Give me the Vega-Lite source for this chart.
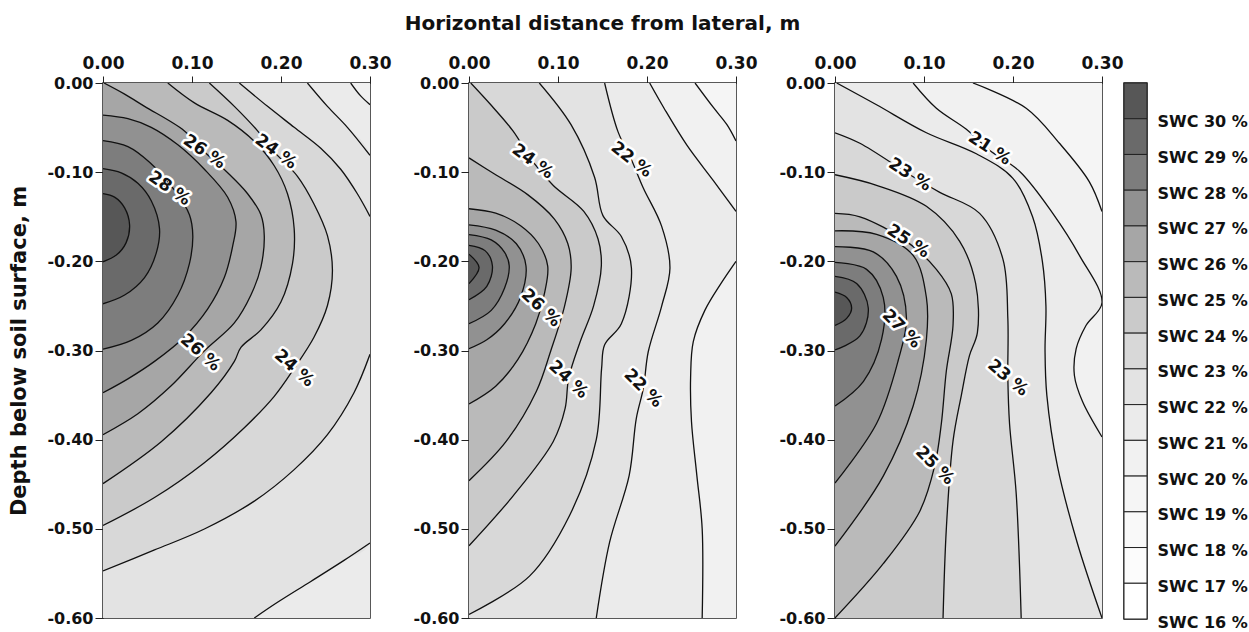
{
"$schema": "https://vega.github.io/schema/vega-lite/v6.json",
"padding": {"left": 8, "top": 13, "right": 0, "bottom": 0},
"background": "white",
"config": {
  "view": {"stroke": "#222", "strokeWidth": 1.5},
  "font": "DejaVu Sans",
  "axis": {"labelFont": "DejaVu Sans", "labelFontWeight": "bold", "labelFontSize": 16, "labelColor": "#111", "tickColor": "#222", "domainColor": "#222", "grid": false, "labelFlush": false, "titleFont": "DejaVu Sans", "titleFontWeight": "bold", "titleColor": "#111"},
  "axisX": {"labelFontSize": 17},
  "text": {"font": "DejaVu Sans", "fontWeight": "bold", "fontSize": 17}
},
"datasets": {
"c": [
{"p":1,"lv":20,"s":"c","x":0.3,"d":0},{"p":1,"lv":20,"s":"c","x":0.3,"d":-0.6},
{"p":1,"lv":21,"s":"a","x":0.2783,"d":0},{"p":1,"lv":21,"s":"a","x":0.2895,"d":-0.0145},{"p":1,"lv":21,"s":"a","x":0.3,"d":-0.0243},{"p":1,"lv":21,"s":"c","x":0.3,"d":-0.6},
{"p":1,"lv":22,"s":"a","x":0.2297,"d":0},{"p":1,"lv":22,"s":"a","x":0.2522,"d":-0.0262},{"p":1,"lv":22,"s":"a","x":0.2746,"d":-0.0497},{"p":1,"lv":22,"s":"a","x":0.3,"d":-0.0811},
{"p":1,"lv":22,"s":"b","x":0.3,"d":-0.5159},{"p":1,"lv":22,"s":"b","x":0.2708,"d":-0.5354},{"p":1,"lv":22,"s":"b","x":0.2335,"d":-0.559},{"p":1,"lv":22,"s":"b","x":0.1961,"d":-0.5824},{"p":1,"lv":22,"s":"b","x":0.17,"d":-0.6},
{"p":1,"lv":23,"s":"a","x":0.1532,"d":0},{"p":1,"lv":23,"s":"a","x":0.1849,"d":-0.0262},{"p":1,"lv":23,"s":"a","x":0.2148,"d":-0.0497},{"p":1,"lv":23,"s":"a","x":0.2447,"d":-0.0732},{"p":1,"lv":23,"s":"a","x":0.2671,"d":-0.0967},{"p":1,"lv":23,"s":"a","x":0.2858,"d":-0.1242},{"p":1,"lv":23,"s":"a","x":0.3,"d":-0.1496},
{"p":1,"lv":23,"s":"b","x":0.3,"d":-0.3043},{"p":1,"lv":23,"s":"b","x":0.282,"d":-0.3474},{"p":1,"lv":23,"s":"b","x":0.2522,"d":-0.3944},{"p":1,"lv":23,"s":"b","x":0.2148,"d":-0.4336},{"p":1,"lv":23,"s":"b","x":0.17,"d":-0.4689},{"p":1,"lv":23,"s":"b","x":0.1139,"d":-0.5002},{"p":1,"lv":23,"s":"b","x":0.0579,"d":-0.5237},{"p":1,"lv":23,"s":"b","x":0,"d":-0.5472},
{"p":1,"lv":24,"s":"a","x":0.1195,"d":0},{"p":1,"lv":24,"s":"a","x":0.1476,"d":-0.0262},{"p":1,"lv":24,"s":"a","x":0.1737,"d":-0.0537},{"p":1,"lv":24,"s":"a","x":0.1924,"d":-0.0772},{"p":1,"lv":24,"s":"a","x":0.2185,"d":-0.1046},{"p":1,"lv":24,"s":"a","x":0.2372,"d":-0.1359},{"p":1,"lv":24,"s":"a","x":0.2522,"d":-0.1712},{"p":1,"lv":24,"s":"a","x":0.2578,"d":-0.2103},{"p":1,"lv":24,"s":"a","x":0.2522,"d":-0.2495},{"p":1,"lv":24,"s":"a","x":0.2372,"d":-0.2848},{"p":1,"lv":24,"s":"a","x":0.2148,"d":-0.32},{"p":1,"lv":24,"s":"a","x":0.1924,"d":-0.3514},{"p":1,"lv":24,"s":"a","x":0.1588,"d":-0.3866},{"p":1,"lv":24,"s":"a","x":0.1139,"d":-0.4258},{"p":1,"lv":24,"s":"a","x":0.0579,"d":-0.4649},{"p":1,"lv":24,"s":"a","x":0,"d":-0.4963},
{"p":1,"lv":25,"s":"a","x":0.0728,"d":0},{"p":1,"lv":25,"s":"a","x":0.1027,"d":-0.0223},{"p":1,"lv":25,"s":"a","x":0.1401,"d":-0.0419},{"p":1,"lv":25,"s":"a","x":0.17,"d":-0.0654},{"p":1,"lv":25,"s":"a","x":0.1924,"d":-0.0928},{"p":1,"lv":25,"s":"a","x":0.2073,"d":-0.1242},{"p":1,"lv":25,"s":"a","x":0.2148,"d":-0.1633},{"p":1,"lv":25,"s":"a","x":0.2129,"d":-0.2025},{"p":1,"lv":25,"s":"a","x":0.1999,"d":-0.2456},{"p":1,"lv":25,"s":"a","x":0.1774,"d":-0.2769},{"p":1,"lv":25,"s":"a","x":0.155,"d":-0.2965},{"p":1,"lv":25,"s":"a","x":0.1476,"d":-0.3122},{"p":1,"lv":25,"s":"a","x":0.1214,"d":-0.3474},{"p":1,"lv":25,"s":"a","x":0.0654,"d":-0.4023},{"p":1,"lv":25,"s":"a","x":0,"d":-0.4493},
{"p":1,"lv":26,"s":"a","x":0.0011,"d":0},{"p":1,"lv":26,"s":"a","x":0.0243,"d":-0.0125},{"p":1,"lv":26,"s":"a","x":0.0467,"d":-0.0262},{"p":1,"lv":26,"s":"a","x":0.0915,"d":-0.0537},{"p":1,"lv":26,"s":"a","x":0.1139,"d":-0.0772},{"p":1,"lv":26,"s":"a","x":0.1401,"d":-0.1007},{"p":1,"lv":26,"s":"a","x":0.1625,"d":-0.1242},{"p":1,"lv":26,"s":"a","x":0.1774,"d":-0.1477},{"p":1,"lv":26,"s":"a","x":0.1812,"d":-0.1712},{"p":1,"lv":26,"s":"a","x":0.1774,"d":-0.2064},{"p":1,"lv":26,"s":"a","x":0.1662,"d":-0.2378},{"p":1,"lv":26,"s":"a","x":0.1476,"d":-0.2691},{"p":1,"lv":26,"s":"a","x":0.1139,"d":-0.3004},{"p":1,"lv":26,"s":"a","x":0.0766,"d":-0.3396},{"p":1,"lv":26,"s":"a","x":0.0392,"d":-0.3709},{"p":1,"lv":26,"s":"a","x":0,"d":-0.3944},
{"p":1,"lv":27,"s":"a","x":0,"d":-0.036},{"p":1,"lv":27,"s":"a","x":0.028,"d":-0.04},{"p":1,"lv":27,"s":"a","x":0.0542,"d":-0.0497},{"p":1,"lv":27,"s":"a","x":0.0841,"d":-0.0693},{"p":1,"lv":27,"s":"a","x":0.1139,"d":-0.0967},{"p":1,"lv":27,"s":"a","x":0.1401,"d":-0.1281},{"p":1,"lv":27,"s":"a","x":0.1494,"d":-0.1555},{"p":1,"lv":27,"s":"a","x":0.1457,"d":-0.1829},{"p":1,"lv":27,"s":"a","x":0.1363,"d":-0.2182},{"p":1,"lv":27,"s":"a","x":0.1177,"d":-0.2534},{"p":1,"lv":27,"s":"a","x":0.0915,"d":-0.2848},{"p":1,"lv":27,"s":"a","x":0.0579,"d":-0.3122},{"p":1,"lv":27,"s":"a","x":0.028,"d":-0.3318},{"p":1,"lv":27,"s":"a","x":0,"d":-0.3474},
{"p":1,"lv":28,"s":"a","x":0,"d":-0.0646},{"p":1,"lv":28,"s":"a","x":0.028,"d":-0.0713},{"p":1,"lv":28,"s":"a","x":0.0523,"d":-0.0889},{"p":1,"lv":28,"s":"a","x":0.0803,"d":-0.1202},{"p":1,"lv":28,"s":"a","x":0.0971,"d":-0.1477},{"p":1,"lv":28,"s":"a","x":0.1009,"d":-0.1712},{"p":1,"lv":28,"s":"a","x":0.0971,"d":-0.2025},{"p":1,"lv":28,"s":"a","x":0.0841,"d":-0.2378},{"p":1,"lv":28,"s":"a","x":0.0616,"d":-0.2691},{"p":1,"lv":28,"s":"a","x":0.0318,"d":-0.2887},{"p":1,"lv":28,"s":"a","x":0,"d":-0.2985},
{"p":1,"lv":29,"s":"a","x":0,"d":-0.096},{"p":1,"lv":29,"s":"a","x":0.0205,"d":-0.1007},{"p":1,"lv":29,"s":"a","x":0.0392,"d":-0.1124},{"p":1,"lv":29,"s":"a","x":0.0542,"d":-0.132},{"p":1,"lv":29,"s":"a","x":0.0635,"d":-0.1633},{"p":1,"lv":29,"s":"a","x":0.0598,"d":-0.1908},{"p":1,"lv":29,"s":"a","x":0.0467,"d":-0.2182},{"p":1,"lv":29,"s":"a","x":0.0243,"d":-0.2378},{"p":1,"lv":29,"s":"a","x":0,"d":-0.2476},
{"p":1,"lv":30,"s":"a","x":0,"d":-0.124},{"p":1,"lv":30,"s":"a","x":0.013,"d":-0.128},{"p":1,"lv":30,"s":"a","x":0.0243,"d":-0.14},{"p":1,"lv":30,"s":"a","x":0.0299,"d":-0.1594},{"p":1,"lv":30,"s":"a","x":0.026,"d":-0.179},{"p":1,"lv":30,"s":"a","x":0.015,"d":-0.193},{"p":1,"lv":30,"s":"a","x":0,"d":-0.2005},

{"p":2,"lv":19,"s":"c","x":0.3,"d":0},{"p":2,"lv":19,"s":"c","x":0.3,"d":-0.6},
{"p":2,"lv":20,"s":"a","x":0.254,"d":0},{"p":2,"lv":20,"s":"a","x":0.275,"d":-0.028},{"p":2,"lv":20,"s":"a","x":0.29,"d":-0.047},{"p":2,"lv":20,"s":"a","x":0.3,"d":-0.065},{"p":2,"lv":20,"s":"c","x":0.3,"d":-0.6},
{"p":2,"lv":21,"s":"a","x":0.203,"d":0},{"p":2,"lv":21,"s":"a","x":0.219,"d":-0.028},{"p":2,"lv":21,"s":"a","x":0.245,"d":-0.07},{"p":2,"lv":21,"s":"a","x":0.275,"d":-0.11},{"p":2,"lv":21,"s":"a","x":0.3,"d":-0.144},
{"p":2,"lv":21,"s":"b","x":0.3,"d":-0.2},{"p":2,"lv":21,"s":"b","x":0.283,"d":-0.225},{"p":2,"lv":21,"s":"b","x":0.265,"d":-0.255},{"p":2,"lv":21,"s":"b","x":0.252,"d":-0.29},{"p":2,"lv":21,"s":"b","x":0.249,"d":-0.33},{"p":2,"lv":21,"s":"b","x":0.25,"d":-0.38},{"p":2,"lv":21,"s":"b","x":0.256,"d":-0.44},{"p":2,"lv":21,"s":"b","x":0.262,"d":-0.5},{"p":2,"lv":21,"s":"b","x":0.262,"d":-0.6},
{"p":2,"lv":22,"s":"a","x":0.1524,"d":0},{"p":2,"lv":22,"s":"a","x":0.1675,"d":-0.0548},{"p":2,"lv":22,"s":"a","x":0.1825,"d":-0.0861},{"p":2,"lv":22,"s":"a","x":0.1957,"d":-0.1174},{"p":2,"lv":22,"s":"a","x":0.2164,"d":-0.1605},{"p":2,"lv":22,"s":"a","x":0.2258,"d":-0.2074},{"p":2,"lv":22,"s":"a","x":0.2164,"d":-0.2505},{"p":2,"lv":22,"s":"a","x":0.2014,"d":-0.3014},{"p":2,"lv":22,"s":"a","x":0.196,"d":-0.342},{"p":2,"lv":22,"s":"a","x":0.188,"d":-0.376},{"p":2,"lv":22,"s":"a","x":0.18,"d":-0.44},{"p":2,"lv":22,"s":"a","x":0.158,"d":-0.515},{"p":2,"lv":22,"s":"a","x":0.143,"d":-0.6},
{"p":2,"lv":23,"s":"a","x":0.079,"d":0},{"p":2,"lv":23,"s":"a","x":0.1148,"d":-0.047},{"p":2,"lv":23,"s":"a","x":0.1411,"d":-0.1057},{"p":2,"lv":23,"s":"a","x":0.1505,"d":-0.1487},{"p":2,"lv":23,"s":"a","x":0.1712,"d":-0.1722},{"p":2,"lv":23,"s":"a","x":0.1825,"d":-0.2074},{"p":2,"lv":23,"s":"a","x":0.1712,"d":-0.27},{"p":2,"lv":23,"s":"a","x":0.1524,"d":-0.2935},{"p":2,"lv":23,"s":"a","x":0.149,"d":-0.32},{"p":2,"lv":23,"s":"a","x":0.143,"d":-0.4},{"p":2,"lv":23,"s":"a","x":0.113,"d":-0.485},{"p":2,"lv":23,"s":"a","x":0.068,"d":-0.553},{"p":2,"lv":23,"s":"a","x":0,"d":-0.596},
{"p":2,"lv":24,"s":"a","x":0.002,"d":0},{"p":2,"lv":24,"s":"a","x":0.025,"d":-0.025},{"p":2,"lv":24,"s":"a","x":0.0496,"d":-0.054},{"p":2,"lv":24,"s":"a","x":0.0715,"d":-0.088},{"p":2,"lv":24,"s":"a","x":0.0947,"d":-0.115},{"p":2,"lv":24,"s":"a","x":0.129,"d":-0.144},{"p":2,"lv":24,"s":"a","x":0.145,"d":-0.175},{"p":2,"lv":24,"s":"a","x":0.1487,"d":-0.205},{"p":2,"lv":24,"s":"a","x":0.14,"d":-0.25},{"p":2,"lv":24,"s":"a","x":0.125,"d":-0.29},{"p":2,"lv":24,"s":"a","x":0.112,"d":-0.331},{"p":2,"lv":24,"s":"a","x":0.108,"d":-0.365},{"p":2,"lv":24,"s":"a","x":0.0947,"d":-0.402},{"p":2,"lv":24,"s":"a","x":0.0496,"d":-0.463},{"p":2,"lv":24,"s":"a","x":0,"d":-0.519},
{"p":2,"lv":25,"s":"a","x":0,"d":-0.084},{"p":2,"lv":25,"s":"a","x":0.0282,"d":-0.1018},{"p":2,"lv":25,"s":"a","x":0.0659,"d":-0.1252},{"p":2,"lv":25,"s":"a","x":0.096,"d":-0.1526},{"p":2,"lv":25,"s":"a","x":0.111,"d":-0.18},{"p":2,"lv":25,"s":"a","x":0.1148,"d":-0.2074},{"p":2,"lv":25,"s":"a","x":0.1073,"d":-0.2505},{"p":2,"lv":25,"s":"a","x":0.092,"d":-0.3},{"p":2,"lv":25,"s":"a","x":0.0756,"d":-0.346},{"p":2,"lv":25,"s":"a","x":0.0417,"d":-0.402},{"p":2,"lv":25,"s":"a","x":0,"d":-0.446},
{"p":2,"lv":26,"s":"a","x":0,"d":-0.141},{"p":2,"lv":26,"s":"a","x":0.03,"d":-0.146},{"p":2,"lv":26,"s":"a","x":0.058,"d":-0.16},{"p":2,"lv":26,"s":"a","x":0.078,"d":-0.18},{"p":2,"lv":26,"s":"a","x":0.0884,"d":-0.205},{"p":2,"lv":26,"s":"a","x":0.085,"d":-0.235},{"p":2,"lv":26,"s":"a","x":0.075,"d":-0.27},{"p":2,"lv":26,"s":"a","x":0.055,"d":-0.31},{"p":2,"lv":26,"s":"a","x":0.03,"d":-0.34},{"p":2,"lv":26,"s":"a","x":0,"d":-0.36},
{"p":2,"lv":27,"s":"a","x":0,"d":-0.159},{"p":2,"lv":27,"s":"a","x":0.03,"d":-0.165},{"p":2,"lv":27,"s":"a","x":0.053,"d":-0.18},{"p":2,"lv":27,"s":"a","x":0.064,"d":-0.205},{"p":2,"lv":27,"s":"a","x":0.058,"d":-0.24},{"p":2,"lv":27,"s":"a","x":0.04,"d":-0.27},{"p":2,"lv":27,"s":"a","x":0.02,"d":-0.288},{"p":2,"lv":27,"s":"a","x":0,"d":-0.298},
{"p":2,"lv":28,"s":"a","x":0,"d":-0.17},{"p":2,"lv":28,"s":"a","x":0.025,"d":-0.176},{"p":2,"lv":28,"s":"a","x":0.04,"d":-0.19},{"p":2,"lv":28,"s":"a","x":0.0452,"d":-0.205},{"p":2,"lv":28,"s":"a","x":0.04,"d":-0.23},{"p":2,"lv":28,"s":"a","x":0.025,"d":-0.255},{"p":2,"lv":28,"s":"a","x":0,"d":-0.27},
{"p":2,"lv":29,"s":"a","x":0,"d":-0.182},{"p":2,"lv":29,"s":"a","x":0.018,"d":-0.188},{"p":2,"lv":29,"s":"a","x":0.0263,"d":-0.205},{"p":2,"lv":29,"s":"a","x":0.02,"d":-0.228},{"p":2,"lv":29,"s":"a","x":0,"d":-0.243},
{"p":2,"lv":30,"s":"a","x":0,"d":-0.192},{"p":2,"lv":30,"s":"a","x":0.0113,"d":-0.207},{"p":2,"lv":30,"s":"a","x":0,"d":-0.225},

{"p":3,"lv":19,"s":"c","x":0.3,"d":0},{"p":3,"lv":19,"s":"c","x":0.3,"d":-0.6},
{"p":3,"lv":20,"s":"a","x":0.155,"d":0},{"p":3,"lv":20,"s":"a","x":0.2148,"d":-0.0283},{"p":3,"lv":20,"s":"a","x":0.2522,"d":-0.0676},{"p":3,"lv":20,"s":"a","x":0.2858,"d":-0.1108},{"p":3,"lv":20,"s":"a","x":0.3,"d":-0.1442},{"p":3,"lv":20,"s":"c","x":0.3,"d":-0.6},
{"p":3,"lv":21,"s":"a","x":0.0878,"d":0},{"p":3,"lv":21,"s":"a","x":0.1139,"d":-0.0283},{"p":3,"lv":21,"s":"a","x":0.1476,"d":-0.0519},{"p":3,"lv":21,"s":"a","x":0.1737,"d":-0.0754},{"p":3,"lv":21,"s":"a","x":0.2073,"d":-0.099},{"p":3,"lv":21,"s":"a","x":0.2447,"d":-0.1462},{"p":3,"lv":21,"s":"a","x":0.2746,"d":-0.1933},{"p":3,"lv":21,"s":"a","x":0.3,"d":-0.2464},{"p":3,"lv":21,"s":"a","x":0.282,"d":-0.272},{"p":3,"lv":21,"s":"a","x":0.271,"d":-0.298},{"p":3,"lv":21,"s":"a","x":0.269,"d":-0.328},{"p":3,"lv":21,"s":"a","x":0.278,"d":-0.357},{"p":3,"lv":21,"s":"a","x":0.3,"d":-0.397},{"p":3,"lv":21,"s":"c","x":0.3,"d":-0.6},
{"p":3,"lv":22,"s":"a","x":0.0019,"d":0},{"p":3,"lv":22,"s":"a","x":0.0467,"d":-0.0244},{"p":3,"lv":22,"s":"a","x":0.1027,"d":-0.0558},{"p":3,"lv":22,"s":"a","x":0.1588,"d":-0.0794},{"p":3,"lv":22,"s":"a","x":0.1999,"d":-0.1069},{"p":3,"lv":22,"s":"a","x":0.222,"d":-0.15},{"p":3,"lv":22,"s":"a","x":0.233,"d":-0.2},{"p":3,"lv":22,"s":"a","x":0.237,"d":-0.25},{"p":3,"lv":22,"s":"a","x":0.236,"d":-0.3},{"p":3,"lv":22,"s":"a","x":0.238,"d":-0.35},{"p":3,"lv":22,"s":"a","x":0.25,"d":-0.43},{"p":3,"lv":22,"s":"a","x":0.272,"d":-0.515},{"p":3,"lv":22,"s":"a","x":0.3,"d":-0.6},
{"p":3,"lv":23,"s":"a","x":0,"d":-0.0558},{"p":3,"lv":23,"s":"a","x":0.028,"d":-0.0676},{"p":3,"lv":23,"s":"a","x":0.0841,"d":-0.1029},{"p":3,"lv":23,"s":"a","x":0.1177,"d":-0.1226},{"p":3,"lv":23,"s":"a","x":0.1625,"d":-0.1462},{"p":3,"lv":23,"s":"a","x":0.1886,"d":-0.1972},{"p":3,"lv":23,"s":"a","x":0.1942,"d":-0.264},{"p":3,"lv":23,"s":"a","x":0.1942,"d":-0.3308},{"p":3,"lv":23,"s":"a","x":0.1961,"d":-0.3819},{"p":3,"lv":23,"s":"a","x":0.2036,"d":-0.4605},{"p":3,"lv":23,"s":"a","x":0.2092,"d":-0.6},
{"p":3,"lv":24,"s":"a","x":0,"d":-0.1029},{"p":3,"lv":24,"s":"a","x":0.0467,"d":-0.1147},{"p":3,"lv":24,"s":"a","x":0.1027,"d":-0.1383},{"p":3,"lv":24,"s":"a","x":0.1401,"d":-0.1776},{"p":3,"lv":24,"s":"a","x":0.158,"d":-0.2248},{"p":3,"lv":24,"s":"a","x":0.16,"d":-0.28},{"p":3,"lv":24,"s":"a","x":0.151,"d":-0.306},{"p":3,"lv":24,"s":"a","x":0.142,"d":-0.35},{"p":3,"lv":24,"s":"a","x":0.1326,"d":-0.4016},{"p":3,"lv":24,"s":"a","x":0.1251,"d":-0.4998},{"p":3,"lv":24,"s":"a","x":0.1214,"d":-0.6},
{"p":3,"lv":25,"s":"a","x":0,"d":-0.1462},{"p":3,"lv":25,"s":"a","x":0.028,"d":-0.1501},{"p":3,"lv":25,"s":"a","x":0.0803,"d":-0.1776},{"p":3,"lv":25,"s":"a","x":0.1139,"d":-0.209},{"p":3,"lv":25,"s":"a","x":0.1307,"d":-0.2365},{"p":3,"lv":25,"s":"a","x":0.1326,"d":-0.2719},{"p":3,"lv":25,"s":"a","x":0.1251,"d":-0.323},{"p":3,"lv":25,"s":"a","x":0.1195,"d":-0.3819},{"p":3,"lv":25,"s":"a","x":0.1121,"d":-0.4291},{"p":3,"lv":25,"s":"a","x":0.0953,"d":-0.4802},{"p":3,"lv":25,"s":"a","x":0.0542,"d":-0.5391},{"p":3,"lv":25,"s":"a","x":0,"d":-0.6},
{"p":3,"lv":26,"s":"a","x":0,"d":-0.1658},{"p":3,"lv":26,"s":"a","x":0.0467,"d":-0.1697},{"p":3,"lv":26,"s":"a","x":0.0878,"d":-0.1933},{"p":3,"lv":26,"s":"a","x":0.1027,"d":-0.2405},{"p":3,"lv":26,"s":"a","x":0.1027,"d":-0.2876},{"p":3,"lv":26,"s":"a","x":0.0878,"d":-0.3623},{"p":3,"lv":26,"s":"a","x":0.0542,"d":-0.4409},{"p":3,"lv":26,"s":"a","x":0,"d":-0.5194},
{"p":3,"lv":27,"s":"a","x":0,"d":-0.1835},{"p":3,"lv":27,"s":"a","x":0.043,"d":-0.1894},{"p":3,"lv":27,"s":"a","x":0.0691,"d":-0.2169},{"p":3,"lv":27,"s":"a","x":0.0803,"d":-0.264},{"p":3,"lv":27,"s":"a","x":0.071,"d":-0.3112},{"p":3,"lv":27,"s":"a","x":0.0467,"d":-0.3819},{"p":3,"lv":27,"s":"a","x":0,"d":-0.4487},
{"p":3,"lv":28,"s":"a","x":0,"d":-0.2012},{"p":3,"lv":28,"s":"a","x":0.0355,"d":-0.209},{"p":3,"lv":28,"s":"a","x":0.0542,"d":-0.2405},{"p":3,"lv":28,"s":"a","x":0.0523,"d":-0.2876},{"p":3,"lv":28,"s":"a","x":0.0318,"d":-0.3348},{"p":3,"lv":28,"s":"a","x":0,"d":-0.3623},
{"p":3,"lv":29,"s":"a","x":0,"d":-0.2169},{"p":3,"lv":29,"s":"a","x":0.0243,"d":-0.2248},{"p":3,"lv":29,"s":"a","x":0.0374,"d":-0.2523},{"p":3,"lv":29,"s":"a","x":0.028,"d":-0.2837},{"p":3,"lv":29,"s":"a","x":0,"d":-0.2994},
{"p":3,"lv":30,"s":"a","x":0,"d":-0.2346},{"p":3,"lv":30,"s":"a","x":0.0131,"d":-0.2405},{"p":3,"lv":30,"s":"a","x":0.0187,"d":-0.2523},{"p":3,"lv":30,"s":"a","x":0.0131,"d":-0.264},{"p":3,"lv":30,"s":"a","x":0,"d":-0.2719}
],
"lab": [
{"p":1,"t":"28 %","x":0.0747,"d":-0.1183,"o":"b"},
{"p":1,"t":"26 %","x":0.1139,"d":-0.0772,"o":"b"},
{"p":1,"t":"24 %","x":0.1942,"d":-0.0772,"o":"c"},
{"p":1,"t":"26 %","x":0.1094,"d":-0.3024,"o":"f"},
{"p":1,"t":"24 %","x":0.2148,"d":-0.32,"o":"f"},
{"p":2,"t":"24 %","x":0.0715,"d":-0.0881,"o":"c"},
{"p":2,"t":"22 %","x":0.1825,"d":-0.0861,"o":"d"},
{"p":2,"t":"26 %","x":0.0809,"d":-0.2524,"o":"g"},
{"p":2,"t":"24 %","x":0.1117,"d":-0.3327,"o":"g"},
{"p":2,"t":"22 %","x":0.1957,"d":-0.3425,"o":"h"},
{"p":3,"t":"21 %","x":0.1737,"d":-0.0735,"o":"a"},
{"p":3,"t":"23 %","x":0.0841,"d":-0.1029,"o":"a"},
{"p":3,"t":"25 %","x":0.0822,"d":-0.1776,"o":"a"},
{"p":3,"t":"27 %","x":0.0747,"d":-0.2758,"o":"h"},
{"p":3,"t":"23 %","x":0.1942,"d":-0.3308,"o":"e"},
{"p":3,"t":"25 %","x":0.1121,"d":-0.4291,"o":"h"}
],
"leg": [
{"lv":30,"hi":31},{"lv":29,"hi":30},{"lv":28,"hi":29},{"lv":27,"hi":28},{"lv":26,"hi":27},{"lv":25,"hi":26},{"lv":24,"hi":25},{"lv":23,"hi":24},{"lv":22,"hi":23},{"lv":21,"hi":22},{"lv":20,"hi":21},{"lv":19,"hi":20},{"lv":18,"hi":19},{"lv":17,"hi":18},{"lv":16,"hi":17}
]
},
"bounds": "flush",
"spacing": 22,
"resolve": {"scale": {"x": "independent", "y": "independent"}},
"hconcat": [
  {
   "width": 267, "height": 535,
   "layer": [
    {"data": {"name": "c"}, "transform": [{"filter": "datum.p == 1"}],
     "mark": {"type": "area", "orient": "horizontal", "interpolate": "catmull-rom", "clip": true, "opacity": 1},
     "encoding": {
      "y": {"field": "d", "type": "quantitative", "scale": {"domain": [-0.6, 0], "nice": false, "zero": false},
            "axis": {"values": [0, -0.1, -0.2, -0.3, -0.4, -0.5, -0.6], "labelExpr": "datum.value < 0 ? '-' + format(-datum.value, '.2f') : format(datum.value, '.2f')", "tickSize": 8, "labelPadding": 2, "title": "Depth below soil surface, m", "titleFontSize": 21, "titlePadding": 17}},
      "x": {"field": "x", "type": "quantitative", "stack": null, "scale": {"domain": [0, 0.3], "nice": false},
            "axis": {"orient": "top", "values": [0, 0.1, 0.2, 0.3], "format": ".2f", "tickSize": 7, "labelPadding": 4, "title": null}},
      "x2": {"datum": 0},
      "color": {"field": "lv", "type": "ordinal", "legend": null,
        "scale": {"domain": [16,17,18,19,20,21,22,23,24,25,26,27,28,29,30], "range": ["#ffffff","#fcfcfc","#f9f9f9","#f5f5f5","#f1f1f1","#ebebeb","#e3e3e3","#d8d8d8","#cacaca","#bababa","#a6a6a6","#919191","#7d7d7d","#6a6a6a","#575757"]}}
     }},
    {"data": {"name": "c"}, "transform": [{"filter": "datum.p == 1 && datum.s != 'c'"}],
     "mark": {"type": "line", "interpolate": "catmull-rom", "clip": true, "color": "#111", "strokeWidth": 1.3},
     "encoding": {"y": {"field": "d", "type": "quantitative"}, "x": {"field": "x", "type": "quantitative"}, "detail": [{"field": "lv"}, {"field": "s"}], "order": {"field": "d", "sort": "descending"}}},
    {"data": {"name": "lab"}, "transform": [{"filter": "datum.p == 1"}],
     "mark": {"type": "text", "stroke": "white", "strokeWidth": 5, "strokeJoin": "round", "fill": "white"},
     "encoding": {"y": {"field": "d", "type": "quantitative"}, "x": {"field": "x", "type": "quantitative"}, "text": {"field": "t"},
       "angle": {"field": "o", "type": "nominal", "legend": null, "scale": {"domain": ["a","b","c","d","e","f","g","h"], "range": [33,45,50,62,80,302,292,283]}}}},
    {"data": {"name": "lab"}, "transform": [{"filter": "datum.p == 1"}],
     "mark": {"type": "text", "fill": "#111"},
     "encoding": {"y": {"field": "d", "type": "quantitative"}, "x": {"field": "x", "type": "quantitative"}, "text": {"field": "t"},
       "angle": {"field": "o", "type": "nominal", "legend": null, "scale": {"domain": ["a","b","c","d","e","f","g","h"], "range": [33,45,50,62,80,302,292,283]}}}}
   ]
  },
  {"width": 55, "height": 10, "view": {"stroke": null}, "data": {"values": [{"k": 1}]}, "mark": {"type": "point", "opacity": 0}},
  {
   "width": 267, "height": 535,
   "title": {"text": "Horizontal distance from lateral, m", "frame": "group", "anchor": "middle", "font": "DejaVu Sans", "fontWeight": "bold", "fontSize": 20, "color": "#111", "offset": 20},
   "layer": [
    {"data": {"name": "c"}, "transform": [{"filter": "datum.p == 2"}],
     "mark": {"type": "area", "orient": "horizontal", "interpolate": "catmull-rom", "clip": true, "opacity": 1},
     "encoding": {
      "y": {"field": "d", "type": "quantitative", "scale": {"domain": [-0.6, 0], "nice": false, "zero": false},
            "axis": {"values": [0, -0.1, -0.2, -0.3, -0.4, -0.5, -0.6], "labelExpr": "datum.value < 0 ? '-' + format(-datum.value, '.2f') : format(datum.value, '.2f')", "tickSize": 8, "labelPadding": 2, "title": null}},
      "x": {"field": "x", "type": "quantitative", "stack": null, "scale": {"domain": [0, 0.3], "nice": false},
            "axis": {"orient": "top", "values": [0, 0.1, 0.2, 0.3], "format": ".2f", "tickSize": 7, "labelPadding": 4, "title": null}},
      "x2": {"datum": 0},
      "color": {"field": "lv", "type": "ordinal", "legend": null,
        "scale": {"domain": [16,17,18,19,20,21,22,23,24,25,26,27,28,29,30], "range": ["#ffffff","#fcfcfc","#f9f9f9","#f5f5f5","#f1f1f1","#ebebeb","#e3e3e3","#d8d8d8","#cacaca","#bababa","#a6a6a6","#919191","#7d7d7d","#6a6a6a","#575757"]}}
     }},
    {"data": {"name": "c"}, "transform": [{"filter": "datum.p == 2 && datum.s != 'c'"}],
     "mark": {"type": "line", "interpolate": "catmull-rom", "clip": true, "color": "#111", "strokeWidth": 1.3},
     "encoding": {"y": {"field": "d", "type": "quantitative"}, "x": {"field": "x", "type": "quantitative"}, "detail": [{"field": "lv"}, {"field": "s"}], "order": {"field": "d", "sort": "descending"}}},
    {"data": {"name": "lab"}, "transform": [{"filter": "datum.p == 2"}],
     "mark": {"type": "text", "stroke": "white", "strokeWidth": 5, "strokeJoin": "round", "fill": "white"},
     "encoding": {"y": {"field": "d", "type": "quantitative"}, "x": {"field": "x", "type": "quantitative"}, "text": {"field": "t"},
       "angle": {"field": "o", "type": "nominal", "legend": null, "scale": {"domain": ["a","b","c","d","e","f","g","h"], "range": [33,45,50,62,80,302,292,283]}}}},
    {"data": {"name": "lab"}, "transform": [{"filter": "datum.p == 2"}],
     "mark": {"type": "text", "fill": "#111"},
     "encoding": {"y": {"field": "d", "type": "quantitative"}, "x": {"field": "x", "type": "quantitative"}, "text": {"field": "t"},
       "angle": {"field": "o", "type": "nominal", "legend": null, "scale": {"domain": ["a","b","c","d","e","f","g","h"], "range": [33,45,50,62,80,302,292,283]}}}}
   ]
  },
  {"width": 55, "height": 10, "view": {"stroke": null}, "data": {"values": [{"k": 1}]}, "mark": {"type": "point", "opacity": 0}},
  {
   "width": 267, "height": 535,
   "layer": [
    {"data": {"name": "c"}, "transform": [{"filter": "datum.p == 3"}],
     "mark": {"type": "area", "orient": "horizontal", "interpolate": "catmull-rom", "clip": true, "opacity": 1},
     "encoding": {
      "y": {"field": "d", "type": "quantitative", "scale": {"domain": [-0.6, 0], "nice": false, "zero": false},
            "axis": {"values": [0, -0.1, -0.2, -0.3, -0.4, -0.5, -0.6], "labelExpr": "datum.value < 0 ? '-' + format(-datum.value, '.2f') : format(datum.value, '.2f')", "tickSize": 8, "labelPadding": 2, "title": null}},
      "x": {"field": "x", "type": "quantitative", "stack": null, "scale": {"domain": [0, 0.3], "nice": false},
            "axis": {"orient": "top", "values": [0, 0.1, 0.2, 0.3], "format": ".2f", "tickSize": 7, "labelPadding": 4, "title": null}},
      "x2": {"datum": 0},
      "color": {"field": "lv", "type": "ordinal", "legend": null,
        "scale": {"domain": [16,17,18,19,20,21,22,23,24,25,26,27,28,29,30], "range": ["#ffffff","#fcfcfc","#f9f9f9","#f5f5f5","#f1f1f1","#ebebeb","#e3e3e3","#d8d8d8","#cacaca","#bababa","#a6a6a6","#919191","#7d7d7d","#6a6a6a","#575757"]}}
     }},
    {"data": {"name": "c"}, "transform": [{"filter": "datum.p == 3 && datum.s != 'c'"}],
     "mark": {"type": "line", "interpolate": "catmull-rom", "clip": true, "color": "#111", "strokeWidth": 1.3},
     "encoding": {"y": {"field": "d", "type": "quantitative"}, "x": {"field": "x", "type": "quantitative"}, "detail": [{"field": "lv"}, {"field": "s"}], "order": {"field": "d", "sort": "descending"}}},
    {"data": {"name": "lab"}, "transform": [{"filter": "datum.p == 3"}],
     "mark": {"type": "text", "stroke": "white", "strokeWidth": 5, "strokeJoin": "round", "fill": "white"},
     "encoding": {"y": {"field": "d", "type": "quantitative"}, "x": {"field": "x", "type": "quantitative"}, "text": {"field": "t"},
       "angle": {"field": "o", "type": "nominal", "legend": null, "scale": {"domain": ["a","b","c","d","e","f","g","h"], "range": [33,45,50,62,80,302,292,283]}}}},
    {"data": {"name": "lab"}, "transform": [{"filter": "datum.p == 3"}],
     "mark": {"type": "text", "fill": "#111"},
     "encoding": {"y": {"field": "d", "type": "quantitative"}, "x": {"field": "x", "type": "quantitative"}, "text": {"field": "t"},
       "angle": {"field": "o", "type": "nominal", "legend": null, "scale": {"domain": ["a","b","c","d","e","f","g","h"], "range": [33,45,50,62,80,302,292,283]}}}}
   ]
  },
  {
   "width": 23, "height": 536,
   "data": {"name": "leg"},
   "mark": {"type": "rect", "stroke": "#222", "strokeWidth": 1},
   "encoding": {
    "y": {"field": "lv", "type": "quantitative", "scale": {"domain": [16, 31], "nice": false, "zero": false},
          "axis": {"orient": "right", "values": [16,17,18,19,20,21,22,23,24,25,26,27,28,29,30], "labelExpr": "'SWC ' + datum.value + ' %'", "ticks": false, "domain": false, "title": null, "labelPadding": 10, "labelOffset": 3, "labelFontSize": 16}},
    "y2": {"field": "hi"},
    "color": {"field": "lv", "type": "ordinal", "legend": null,
      "scale": {"domain": [16,17,18,19,20,21,22,23,24,25,26,27,28,29,30], "range": ["#ffffff","#fcfcfc","#f9f9f9","#f5f5f5","#f1f1f1","#ebebeb","#e3e3e3","#d8d8d8","#cacaca","#bababa","#a6a6a6","#919191","#7d7d7d","#6a6a6a","#575757"]}}
   }
  }
]
}
